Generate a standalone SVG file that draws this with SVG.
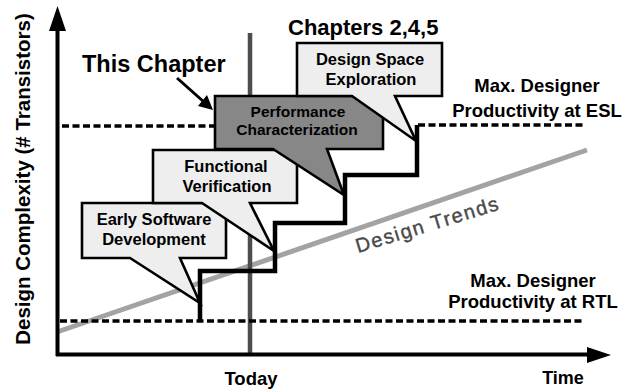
<svg xmlns="http://www.w3.org/2000/svg" width="630" height="392" viewBox="0 0 630 392">
<defs>
<style>
.lbl{font-family:"Liberation Sans",Arial,sans-serif;font-weight:bold;fill:#000}
.mid{text-anchor:middle}
.callout{stroke:#000;stroke-width:2.6;stroke-linejoin:miter}
.light{fill:#eeeeee}
.dark{fill:#878787}
.dash{stroke:#000;stroke-width:3.5;stroke-dasharray:7 3.5;fill:none}
.head{fill:#000}
</style>
</defs>
<rect width="630" height="392" fill="#fff"/>

<g id="guides">
<line x1="57" y1="332" x2="587" y2="150" stroke="#a3a3a3" stroke-width="5"/>
<line x1="250" y1="33" x2="250" y2="355" stroke="#4d4d4d" stroke-width="4.5"/>
<line class="dash" x1="62" y1="126" x2="215" y2="126"/>
<line class="dash" x1="418" y1="125" x2="584" y2="125"/>
<line class="dash" x1="60" y1="321" x2="584" y2="321"/>
</g>

<text x="358" y="253" transform="rotate(-17 358 253)" font-family="Liberation Sans,Arial,sans-serif" font-size="20" letter-spacing="1.6" fill="#4a4a4a" stroke="#4a4a4a" stroke-width="0.4">Design Trends</text>

<g id="early-sw">
<polygon class="callout light" points="82,203 226,203 226,258 180,258 200,303 130,258 82,258"/>
<text class="lbl mid" x="154" y="225" font-size="16.5">Early Software</text>
<text class="lbl mid" x="154" y="245" font-size="16.5">Development</text>
</g>
<g id="func-ver">
<polygon class="callout light" points="153,150 297,150 297,203 250,203 274,251 202,203 153,203"/>
<text class="lbl mid" x="226" y="172" font-size="16.5">Functional</text>
<text class="lbl mid" x="227" y="192" font-size="16.5">Verification</text>
</g>
<g id="perf-char">
<polygon class="callout dark" points="215,96 383,96 383,149 327,149 344,195 273,149 215,149"/>
<text class="lbl mid" x="298" y="117" font-size="15.5">Performance</text>
<text class="lbl mid" x="297" y="135" font-size="15.5">Characterization</text>
</g>
<g id="dse">
<polygon class="callout light" points="297,43 442,43 442,96 395,96 416,141 352,96 297,96"/>
<text class="lbl mid" x="370" y="65" font-size="16.5">Design Space</text>
<text class="lbl mid" x="371" y="85" font-size="16.5">Exploration</text>
</g>

<g id="connectors">
<path d="M200,321 V271 H275 V223 H345 V175 H417 V125" fill="none" stroke="#000" stroke-width="4.5" stroke-linejoin="miter"/>
<line x1="177" y1="78" x2="204" y2="102" stroke="#000" stroke-width="3"/>
<polygon class="head" points="213,110 198,106 207,95"/>
</g>

<g id="axes">
<line x1="57.5" y1="356" x2="57.5" y2="28" stroke="#000" stroke-width="4"/>
<polygon class="head" points="57.5,6 49,31 66,31"/>
<line x1="56" y1="354.5" x2="590" y2="354.5" stroke="#000" stroke-width="4"/>
<polygon class="head" points="611,355 587,347 587,363"/>
</g>

<g id="labels">
<text class="lbl" x="82" y="72" font-size="23.5">This Chapter</text>
<text class="lbl" x="288" y="35" font-size="22">Chapters 2,4,5</text>
<text class="lbl mid" x="537" y="92" font-size="18.5">Max. Designer</text>
<text class="lbl mid" x="537" y="117" font-size="18.5">Productivity at ESL</text>
<text class="lbl mid" x="533" y="287" font-size="18.5">Max. Designer</text>
<text class="lbl mid" x="533" y="308" font-size="18.5">Productivity at RTL</text>
<text class="lbl mid" x="251" y="385" font-size="18.5">Today</text>
<text class="lbl mid" x="563" y="384" font-size="18">Time</text>
<text class="lbl mid" transform="translate(30,179) rotate(-90)" font-size="20.5">Design Complexity (# Transistors)</text>
</g>
</svg>
